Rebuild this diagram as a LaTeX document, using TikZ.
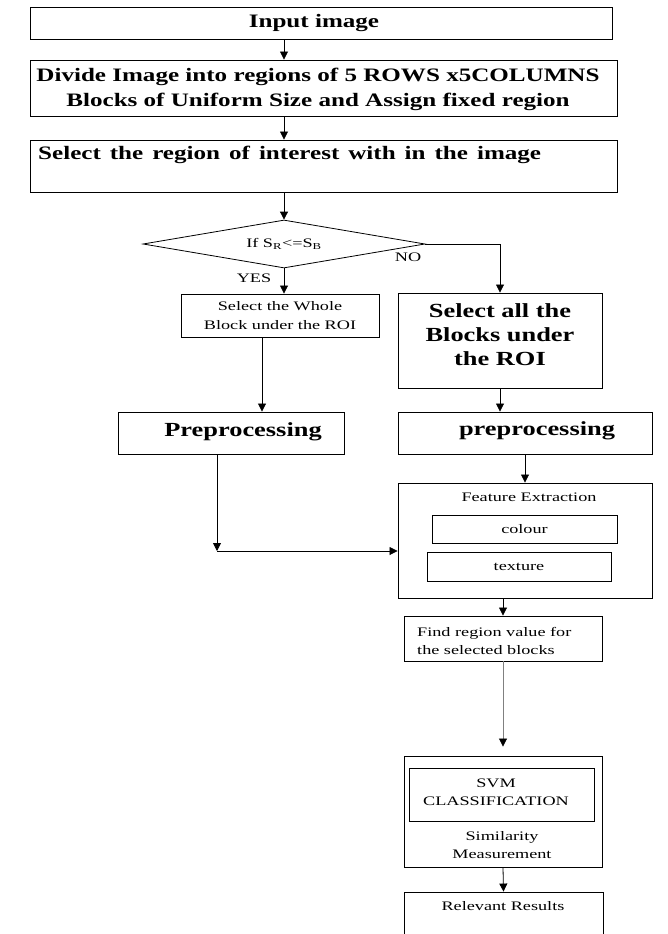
\documentclass[tikz,border=0pt]{standalone}
\usepackage{fontspec}
\setmainfont{Liberation Serif}
\newfontfamily\bigf[FakeStretch=1.32]{Liberation Serif}
\newfontfamily\smf[FakeStretch=1.4]{Liberation Serif}
\usetikzlibrary{shapes.geometric,arrows.meta}
\begin{document}
\begin{tikzpicture}[x=1pt,y=-1pt,
  bx/.style={draw, line width=0.9pt, inner sep=0pt},
  txt/.style={inner sep=0pt},
  big/.style={font=\bigf\bfseries\fontsize{19}{25}\selectfont},
  bigger/.style={font=\bigf\bfseries\fontsize{20}{24}\selectfont},
  sm/.style={font=\smf\fontsize{13}{18}\selectfont},
  arr/.style={line width=0.8pt, -{Triangle[length=8pt,width=8pt]}},
  ln/.style={line width=0.8pt}]
\useasboundingbox (0,0) rectangle (668,934);
\clip (0,0) rectangle (668,934);
\fill[white] (0,0) rectangle (668,934);

% top boxes
\node[bx, minimum width=582pt, minimum height=32pt] (b1) at (321,23) {};
\node[txt, big] (t1) at (314,23) {Input image};
\node[bx, minimum width=587pt, minimum height=56pt] (b2) at (323.5,88) {};
\node[txt, big, align=center] (t2) at (318,89) {Divide Image into regions of 5 ROWS x5COLUMNS\\Blocks of Uniform Size and Assign fixed region};
\node[bx, minimum width=587pt, minimum height=52pt] (b3) at (323.5,166) {};
\node[txt, big, anchor=west] (t3) at (38,155) {\spaceskip=9pt plus 1pt Select the region of interest with in the image};

% decision
\node[draw, diamond, aspect=5.875, minimum width=282pt, minimum height=48pt, inner sep=0pt, line width=0.8pt, sm] (d) at (284,244) {If S\textsubscript{R}<=S\textsubscript{B}};
\node[txt, sm] (no) at (408,257) {NO};
\node[txt, sm] (yes) at (254,278) {YES};

% left branch
\node[bx, sm, minimum width=198pt, minimum height=43pt, align=center] (wb) at (280,315.5) {Select the Whole\\[1.5pt]Block under the ROI};
\node[bx, minimum width=226pt, minimum height=42pt] (pl) at (231,433) {};
\node[txt, bigger] (tpl) at (243,432) {Preprocessing};

% right branch
\node[bx, minimum width=204pt, minimum height=95pt] (sa) at (500,340.5) {};
\node[txt, bigger, align=center] (tsa) at (500,335) {Select all the\\Blocks under\\the ROI};
\node[bx, minimum width=254pt, minimum height=42pt] (pr) at (525,433) {};
\node[txt, bigger] (tpr) at (537,431) {preprocessing};

% feature extraction
\node[bx, minimum width=254pt, minimum height=115pt] (fe) at (525,540.5) {};
\node[txt, sm] (tfe) at (529,497) {Feature Extraction};
\node[bx, sm, minimum width=185pt, minimum height=28pt] (col) at (524.5,529) {colour};
\node[bx, sm, minimum width=184pt, minimum height=29pt] (tex) at (519,566.5) {texture};

% find region
\node[bx, minimum width=198pt, minimum height=45pt] (fr) at (503,638.5) {};
\node[txt, sm, anchor=west, align=left] (tfr) at (417,640.5) {Find region value for\\the selected blocks};

% similarity
\node[bx, minimum width=198pt, minimum height=111pt] (svm) at (503,811.5) {};
\node[bx, minimum width=185pt, minimum height=53pt] (svi) at (501.5,794.5) {};
\node[txt, sm, align=center] (tsvm) at (496,792) {SVM\\CLASSIFICATION};
\node[txt, sm, align=center] (tsim) at (502,845.5) {Similarity\\Measurement};

% results
\node[bx, minimum width=199pt, minimum height=58pt] (rr) at (503.5,921) {};
\node[txt, sm] (trr) at (503,906) {Relevant Results};

% connectors
\coordinate (xl) at (262,0);
\coordinate (j) at (217,551);
\draw[arr] (b1.south -| d.north) -- (b2.north -| d.north);
\draw[arr] (b2.south -| d.north) -- (b3.north -| d.north);
\draw[arr] (b3.south -| d.north) -- (d.north);
\draw[arr] (d.south) -- (d.south |- wb.north);
\draw[arr] (d.east) -| (sa.north);
\draw[arr] (wb.south -| xl) -- (pl.north -| xl);
\draw[arr] (pl.south -| j) -- (j);
\draw[arr] (j) -- (j -| fe.west);
\draw[arr] (sa.south) -- (sa.south |- pr.north);
\draw[arr] (pr.south) -- (fe.north);
\draw[arr] (fr.north |- fe.south) -- (fr.north);
\draw[line width=0.8pt, gray, -{Triangle[length=8pt,width=8pt,color=black]}] (fr.south) -- ([yshift=9pt]svm.north);
\draw[arr] (svm.south) -- (rr.north);
\end{tikzpicture}
\end{document}
